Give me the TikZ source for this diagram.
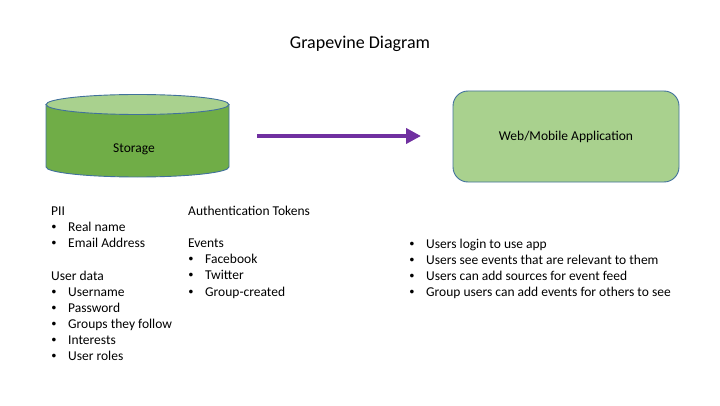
\documentclass[tikz,border=0pt]{standalone}
\usepackage{fontspec}
\setmainfont{Carlito}
\newfontfamily\bulfont{Liberation Sans}
\usetikzlibrary{arrows.meta}
\definecolor{bodygreen}{HTML}{70AD47}
\definecolor{lightgreen}{HTML}{A9D18E}
\definecolor{edgeblue}{HTML}{41719C}
\definecolor{arrowpurple}{HTML}{7030A0}
\tikzset{
  bodytext/.style={font=\fontsize{13.5}{16}\selectfont, inner sep=0pt, anchor=base west},
  bul/.style={font=\bulfont\fontsize{13.5}{16}\selectfont, inner sep=0pt, anchor=base},
  appbox/.style={draw=edgeblue, line width=0.9pt, fill=lightgreen, rounded corners=15pt,
    minimum width=226pt, minimum height=91pt, font=\fontsize{13.5}{16}\selectfont},
  flow/.style={draw=arrowpurple, line width=4pt, -{Triangle[length=15pt,width=15pt]}}
}
\begin{document}
\begin{tikzpicture}[x=1pt,y=1pt]
\useasboundingbox (0,0) rectangle (720,405);
% title
\node[font=\fontsize{18}{22}\selectfont] (title) at (360,361) {Grapevine Diagram};
% storage cylinder
\draw[draw=edgeblue, line width=0.9pt, fill=bodygreen] (46,300.5) -- (46,238)
  arc[start angle=180, end angle=360, x radius=91.5, y radius=10] -- (229,300.5) -- cycle;
\draw[draw=edgeblue, line width=0.9pt, fill=lightgreen] (137.5,300.5) ellipse[x radius=91.5, y radius=10];
\node[font=\fontsize{13.5}{16}\selectfont] (storage) at (134,256) {Storage};
% application box
\node[appbox] (app) at (566,268.5) {Web/Mobile Application};
% arrow
\coordinate (a1) at (257,269);
\coordinate (a2) at (421,269);
\draw[flow] (a1) -- (a2);
% left column
\node[bodytext] (pii) at (51,{405-211-4.5}) {PII};
\foreach \t/\y [count=\i] in {Real name/227, Email Address/243, Username/292, Password/308, Groups they follow/324, Interests/340, User roles/356}{
  \node[bul] (lb\i) at (54,{405-\y-4.5}) {•};
  \node[bodytext] (lt\i) at (68,{405-\y-4.5}) {\t};
}
\node[bodytext] (udata) at (51,{405-276-4.5}) {User data};
% middle column
\node[bodytext] (auth) at (188,{405-211-4.5}) {Authentication Tokens};
\node[bodytext] (events) at (188,{405-243-4.5}) {Events};
\foreach \t/\y [count=\i] in {Facebook/259, Twitter/275, Group-created/292}{
  \node[bul] (mb\i) at (191,{405-\y-4.5}) {•};
  \node[bodytext] (mt\i) at (205,{405-\y-4.5}) {\t};
}
% right column
\foreach \t/\y [count=\i] in {Users login to use app/244, Users see events that are relevant to them/260, Users can add sources for event feed/276, Group users can add events for others to see/292}{
  \node[bul] (rb\i) at (412,{405-\y-4.5}) {•};
  \node[bodytext] (rt\i) at (426,{405-\y-4.5}) {\t};
}
\end{tikzpicture}
\end{document}
